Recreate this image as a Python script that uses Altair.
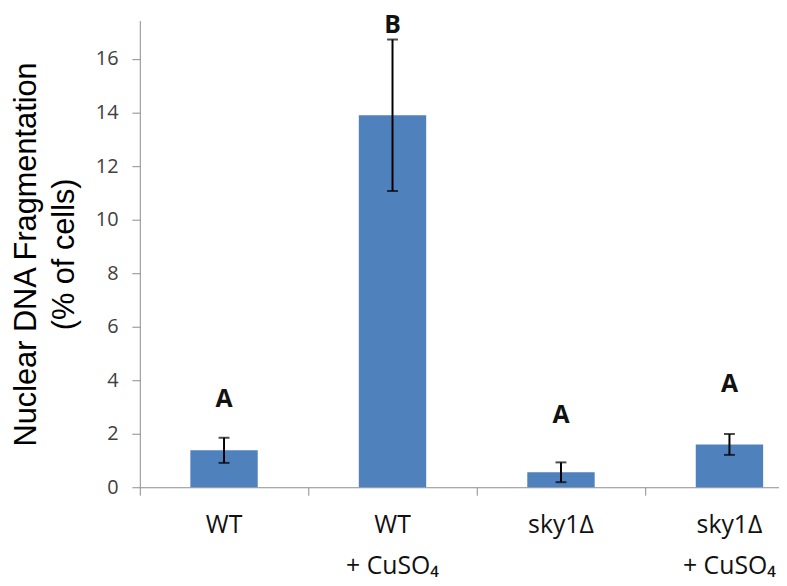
import altair as alt
import pandas as pd

categories = ["WT", "WT\n+ CuSO₄", "sky1Δ", "sky1Δ\n+ CuSO₄"]
means = [1.38, 13.9, 0.56, 1.6]
errors = [0.47, 2.83, 0.37, 0.39]
letters = ["A", "B", "A", "A"]
letter_y = [3.3, 17.26, 2.7, 3.85]
y_ticks = [0, 2, 4, 6, 8, 10, 12, 14, 16]

df = pd.DataFrame({
    "cat": categories,
    "mean": means,
    "err": errors,
    "letter": letters,
    "ly": letter_y,
})
df["lo"] = df["mean"] - df["err"]
df["hi"] = df["mean"] + df["err"]

xs = alt.Scale(domain=categories, range=[0, 680], paddingInner=0, paddingOuter=0)
ys = alt.Scale(domain=[0, 17.44], nice=False, zero=True)

x_enc = alt.X("cat:N", scale=xs, sort=categories, title=None,
              axis=alt.Axis(labelAngle=0, bandPosition=0, labelExpr="split(datum.label, '\\n')",
                            labelFont="Open Sans", labelFontSize=25, labelColor="#111",
                            labelLineHeight=41, labelPadding=30, tickSize=8,
                            domainColor="#8c8c8c", tickColor="#8c8c8c", labelBaseline="middle"))

bars = alt.Chart(df).mark_bar(color="#4F81BD", width=68).encode(
    x=x_enc,
    y=alt.Y("mean:Q", scale=ys,
            title=["Nuclear DNA Fragmentation", "(% of cells)"],
            axis=alt.Axis(values=y_ticks, grid=False, tickSize=8,
                          domainColor="#8c8c8c", tickColor="#8c8c8c",
                          labelFont="Open Sans", labelFontSize=20, labelColor="#404040",
                          labelPadding=14,
                          titleFont="Liberation Sans", titleFontSize=31, titleFontWeight="normal",
                          titleColor="#000", titleLineHeight=38, titlePadding=15)),
)

rules = alt.Chart(df).mark_rule(color="black", strokeWidth=2).encode(
    x=alt.X("cat:N", scale=xs, sort=categories),
    y=alt.Y("lo:Q", scale=ys),
    y2="hi:Q",
)
cap_hi = alt.Chart(df).mark_tick(color="black", thickness=2, size=11, orient="horizontal").encode(
    x=alt.X("cat:N", scale=xs, sort=categories),
    y=alt.Y("hi:Q", scale=ys),
)
cap_lo = alt.Chart(df).mark_tick(color="black", thickness=2, size=11, orient="horizontal").encode(
    x=alt.X("cat:N", scale=xs, sort=categories),
    y=alt.Y("lo:Q", scale=ys),
)
text = alt.Chart(df).mark_text(font="Open Sans", fontSize=25, fontWeight="bold", color="#111",
                               baseline="middle").encode(
    x=alt.X("cat:N", scale=xs, sort=categories),
    y=alt.Y("ly:Q", scale=ys),
    text="letter:N",
)

chart = alt.layer(bars, rules, cap_hi, cap_lo, text).properties(
    width=645, height=471,
    autosize=alt.AutoSizeParams(type="none"),
    padding={"left": 133, "top": 10, "right": 0, "bottom": 96},
).configure_view(stroke=None).configure_tick(bandSize=11)

chart.save("out.html", embed_options={"renderer": "svg", "actions": False})
